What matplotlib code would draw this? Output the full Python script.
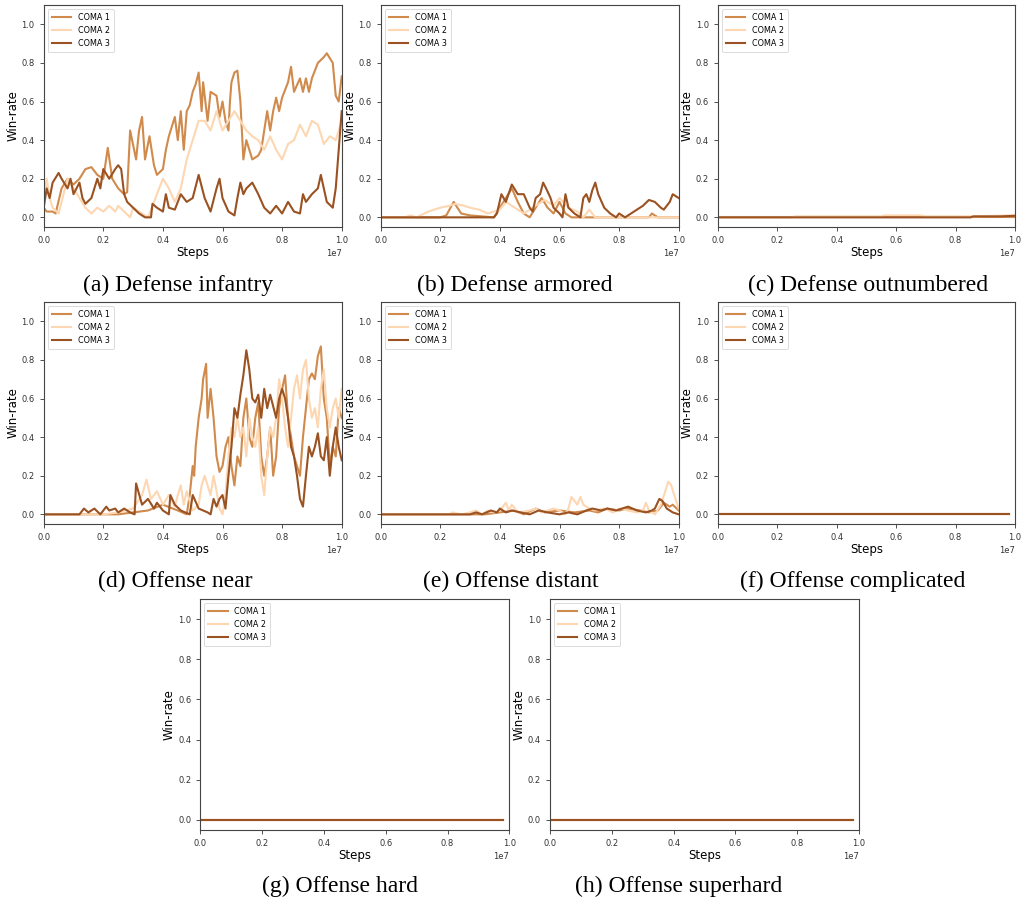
import numpy as np
import matplotlib
matplotlib.use("Agg")
import matplotlib.pyplot as plt

W, H = 1024, 905
STEP_SCALE = 1e7

COLORS = ["#d08a4c", "#fdd6b2", "#9a5222"]
LABELS = ["COMA 1", "COMA 2", "COMA 3"]

# ---- (a) Defense infantry ----
A1_X = [0, 0.01, 0.03, 0.04, 0.06, 0.08, 0.10, 0.12, 0.14, 0.16,
        0.18, 0.20, 0.215, 0.23, 0.25, 0.27, 0.28, 0.29, 0.31, 0.32,
        0.33, 0.34, 0.355, 0.37, 0.38, 0.40, 0.41, 0.42, 0.44, 0.45,
        0.46, 0.47, 0.48, 0.49, 0.50, 0.51, 0.52, 0.53, 0.535, 0.55,
        0.56, 0.58, 0.59, 0.60, 0.61, 0.62, 0.625, 0.63, 0.64, 0.65,
        0.66, 0.67, 0.68, 0.69, 0.70, 0.72, 0.73, 0.74, 0.75, 0.76,
        0.77, 0.78, 0.79, 0.80, 0.82, 0.83, 0.84, 0.86, 0.87, 0.88,
        0.89, 0.90, 0.92, 0.94, 0.95, 0.97, 0.98, 0.99, 1.0]
A1_Y = [0.05, 0.03, 0.03, 0.02, 0.15, 0.20, 0.17, 0.20, 0.25, 0.26,
        0.22, 0.20, 0.36, 0.20, 0.15, 0.12, 0.13, 0.45, 0.30, 0.45,
        0.52, 0.30, 0.42, 0.27, 0.22, 0.25, 0.35, 0.42, 0.52, 0.40,
        0.55, 0.35, 0.55, 0.58, 0.65, 0.69, 0.75, 0.55, 0.70, 0.50,
        0.65, 0.63, 0.52, 0.60, 0.50, 0.45, 0.60, 0.70, 0.75, 0.76,
        0.60, 0.30, 0.40, 0.35, 0.30, 0.32, 0.35, 0.45, 0.55, 0.45,
        0.55, 0.62, 0.55, 0.62, 0.70, 0.78, 0.65, 0.72, 0.65, 0.72,
        0.65, 0.72, 0.80, 0.83, 0.85, 0.80, 0.63, 0.60, 0.73]
A2_X = [0, 0.01, 0.02, 0.03, 0.05, 0.08, 0.10, 0.12, 0.14, 0.16,
        0.18, 0.20, 0.22, 0.24, 0.25, 0.27, 0.29, 0.30, 0.33, 0.35,
        0.37, 0.38, 0.40, 0.42, 0.44, 0.46, 0.48, 0.50, 0.52, 0.54,
        0.56, 0.58, 0.60, 0.62, 0.64, 0.66, 0.68, 0.70, 0.72, 0.74,
        0.76, 0.78, 0.80, 0.82, 0.84, 0.86, 0.88, 0.90, 0.92, 0.94,
        0.96, 0.98, 1.0]
A2_Y = [0.10, 0.20, 0.10, 0.05, 0.02, 0.20, 0.15, 0.10, 0.05, 0.02,
        0.05, 0.03, 0.06, 0.03, 0.06, 0.03, 0.00, 0.05, 0.02, 0.00,
        0.08, 0.12, 0.20, 0.15, 0.08, 0.15, 0.30, 0.40, 0.50, 0.50,
        0.45, 0.55, 0.45, 0.50, 0.55, 0.50, 0.45, 0.42, 0.40, 0.35,
        0.42, 0.35, 0.30, 0.38, 0.40, 0.48, 0.42, 0.50, 0.48, 0.38,
        0.42, 0.40, 0.50]
A3_X = [0, 0.01, 0.02, 0.03, 0.05, 0.06, 0.08, 0.09, 0.10, 0.12,
        0.13, 0.14, 0.16, 0.18, 0.19, 0.20, 0.22, 0.24, 0.25, 0.26,
        0.27, 0.28, 0.30, 0.32, 0.34, 0.36, 0.365, 0.38, 0.40, 0.41,
        0.42, 0.44, 0.46, 0.48, 0.50, 0.52, 0.54, 0.56, 0.58, 0.59,
        0.60, 0.62, 0.64, 0.65, 0.66, 0.67, 0.68, 0.70, 0.72, 0.74,
        0.76, 0.78, 0.80, 0.82, 0.84, 0.86, 0.87, 0.88, 0.90, 0.92,
        0.93, 0.95, 0.97, 0.98, 0.99, 1.0]
A3_Y = [0.05, 0.15, 0.10, 0.18, 0.23, 0.20, 0.15, 0.20, 0.12, 0.18,
        0.10, 0.07, 0.10, 0.20, 0.15, 0.25, 0.20, 0.25, 0.27, 0.25,
        0.12, 0.08, 0.05, 0.02, 0.00, 0.00, 0.07, 0.05, 0.03, 0.12,
        0.05, 0.04, 0.12, 0.08, 0.10, 0.22, 0.10, 0.03, 0.15, 0.20,
        0.10, 0.03, 0.01, 0.10, 0.18, 0.12, 0.15, 0.18, 0.12, 0.05,
        0.02, 0.06, 0.02, 0.08, 0.03, 0.02, 0.12, 0.08, 0.12, 0.15,
        0.22, 0.08, 0.05, 0.15, 0.35, 0.55]

# ---- (b) Defense armored ----
B1_X = [0, 0.20, 0.22, 0.245, 0.27, 0.30, 0.38, 0.40, 0.42, 0.44,
        0.46, 0.48, 0.50, 0.52, 0.54, 0.56, 0.58, 0.60, 0.62, 0.64,
        0.70, 0.90, 0.91, 0.93, 1.0]
B1_Y = [0, 0, 0.01, 0.08, 0.02, 0.01, 0.0, 0.05, 0.10, 0.15,
        0.08, 0.02, 0.0, 0.05, 0.10, 0.05, 0.02, 0.08, 0.02, 0.0,
        0.0, 0.0, 0.02, 0.0, 0.0]
B2_X = [0, 0.08, 0.10, 0.12, 0.16, 0.20, 0.23, 0.25, 0.28, 0.30,
        0.33, 0.36, 0.40, 0.42, 0.45, 0.48, 0.52, 0.55, 0.58, 0.60,
        0.63, 0.66, 0.68, 0.70, 0.72, 0.80, 1.0]
B2_Y = [0, 0, 0.01, 0.0, 0.03, 0.05, 0.06, 0.07, 0.06, 0.05,
        0.04, 0.02, 0.04, 0.08, 0.05, 0.02, 0.06, 0.09, 0.06, 0.10,
        0.05, 0.03, 0.0, 0.04, 0.0, 0.0, 0.0]
B3_X = [0, 0.38, 0.39, 0.405, 0.42, 0.44, 0.46, 0.48, 0.50, 0.51,
        0.52, 0.535, 0.545, 0.555, 0.57, 0.58, 0.60, 0.61, 0.62, 0.63,
        0.65, 0.67, 0.68, 0.69, 0.70, 0.71, 0.72, 0.73, 0.75, 0.77,
        0.79, 0.80, 0.82, 0.84, 0.86, 0.88, 0.90, 0.92, 0.94, 0.95,
        0.97, 0.98, 1.0]
B3_Y = [0, 0, 0.02, 0.12, 0.08, 0.17, 0.12, 0.12, 0.05, 0.03,
        0.10, 0.12, 0.18, 0.15, 0.10, 0.05, 0.02, 0.0, 0.12, 0.05,
        0.02, 0.0, 0.10, 0.12, 0.08, 0.14, 0.18, 0.12, 0.05, 0.02,
        0.0, 0.02, 0.0, 0.02, 0.04, 0.06, 0.09, 0.08, 0.05, 0.04,
        0.08, 0.12, 0.10]

# ---- (c) Defense outnumbered ----
C1_X = [0, 1.0]
C1_Y = [0, 0]
C2_X = [0, 0.25, 0.26, 0.40, 0.55, 0.56, 0.68, 0.70, 0.85, 0.98, 1.0]
C2_Y = [0, 0, 0.005, 0.005, 0.005, 0.01, 0.01, 0.005, 0.005, 0.01, 0.01]
C3_X = [0, 0.85, 0.86, 0.95, 1.0]
C3_Y = [0, 0, 0.005, 0.005, 0.008]

# ---- (d) Offense near ----
D1_X = [0, 0.25, 0.30, 0.35, 0.40, 0.45, 0.48, 0.49, 0.50, 0.505,
        0.51, 0.52, 0.53, 0.535, 0.545, 0.55, 0.56, 0.57, 0.58, 0.59,
        0.60, 0.61, 0.62, 0.63, 0.64, 0.65, 0.66, 0.67, 0.68, 0.69,
        0.70, 0.71, 0.72, 0.73, 0.74, 0.75, 0.76, 0.77, 0.78, 0.79,
        0.80, 0.81, 0.82, 0.83, 0.84, 0.85, 0.86, 0.87, 0.88, 0.89,
        0.90, 0.91, 0.92, 0.93, 0.94, 0.95, 0.96, 0.97, 0.98, 0.99,
        1.0]
D1_Y = [0, 0, 0.01, 0.02, 0.05, 0.02, 0.0, 0.10, 0.25, 0.20,
        0.35, 0.50, 0.60, 0.70, 0.78, 0.50, 0.65, 0.50, 0.30, 0.22,
        0.25, 0.35, 0.40, 0.25, 0.15, 0.30, 0.25, 0.50, 0.60, 0.40,
        0.35, 0.50, 0.58, 0.30, 0.20, 0.30, 0.45, 0.20, 0.30, 0.55,
        0.65, 0.72, 0.50, 0.40, 0.30, 0.25, 0.20, 0.40, 0.55, 0.70,
        0.73, 0.70, 0.82, 0.87, 0.60, 0.50, 0.25, 0.35, 0.30, 0.55,
        0.50]
D2_X = [0, 0.20, 0.25, 0.30, 0.33, 0.345, 0.36, 0.38, 0.40, 0.42,
        0.44, 0.45, 0.46, 0.47, 0.48, 0.50, 0.52, 0.53, 0.54, 0.55,
        0.56, 0.57, 0.58, 0.59, 0.60, 0.61, 0.62, 0.63, 0.64, 0.65,
        0.66, 0.67, 0.68, 0.69, 0.70, 0.71, 0.72, 0.73, 0.74, 0.75,
        0.76, 0.77, 0.78, 0.79, 0.80, 0.81, 0.82, 0.83, 0.84, 0.85,
        0.86, 0.87, 0.88, 0.89, 0.90, 0.91, 0.92, 0.93, 0.94, 0.95,
        0.96, 0.97, 0.98, 0.99, 1.0]
D2_Y = [0, 0, 0.01, 0.03, 0.10, 0.18, 0.08, 0.12, 0.05, 0.10,
        0.04, 0.10, 0.15, 0.05, 0.12, 0.02, 0.05, 0.15, 0.20, 0.15,
        0.10, 0.20, 0.12, 0.03, 0.0, 0.10, 0.30, 0.45, 0.40, 0.50,
        0.40, 0.45, 0.30, 0.50, 0.40, 0.35, 0.45, 0.20, 0.10, 0.30,
        0.45, 0.40, 0.50, 0.70, 0.60, 0.45, 0.35, 0.50, 0.65, 0.72,
        0.60, 0.75, 0.80, 0.60, 0.50, 0.55, 0.45, 0.65, 0.75, 0.55,
        0.45, 0.55, 0.60, 0.50, 0.65]
D3_X = [0, 0.12, 0.135, 0.15, 0.17, 0.19, 0.21, 0.22, 0.24, 0.25,
        0.27, 0.29, 0.305, 0.31, 0.33, 0.35, 0.37, 0.38, 0.40, 0.42,
        0.425, 0.44, 0.46, 0.49, 0.50, 0.52, 0.55, 0.56, 0.57, 0.58,
        0.59, 0.60, 0.61, 0.62, 0.63, 0.64, 0.65, 0.66, 0.67, 0.68,
        0.69, 0.70, 0.71, 0.72, 0.73, 0.74, 0.75, 0.76, 0.78, 0.79,
        0.80, 0.81, 0.82, 0.83, 0.84, 0.85, 0.86, 0.87, 0.88, 0.89,
        0.90, 0.91, 0.92, 0.93, 0.94, 0.95, 0.96, 0.97, 0.98, 0.99,
        1.0]
D3_Y = [0, 0, 0.03, 0.01, 0.03, 0.0, 0.04, 0.02, 0.03, 0.01,
        0.03, 0.01, 0.0, 0.16, 0.05, 0.08, 0.03, 0.06, 0.02, 0.0,
        0.10, 0.05, 0.02, 0.0, 0.10, 0.03, 0.01, 0.0, 0.08, 0.04,
        0.08, 0.10, 0.03, 0.20, 0.35, 0.55, 0.50, 0.62, 0.72, 0.85,
        0.75, 0.60, 0.58, 0.62, 0.50, 0.65, 0.55, 0.62, 0.50, 0.60,
        0.65, 0.60, 0.50, 0.35, 0.30, 0.20, 0.08, 0.04, 0.20, 0.35,
        0.30, 0.35, 0.42, 0.30, 0.28, 0.40, 0.20, 0.35, 0.45, 0.35,
        0.28]

# ---- (e) Offense distant ----
E1_X = [0, 0.35, 0.40, 0.45, 0.48, 0.52, 0.55, 0.60, 0.65, 0.70,
        0.73, 0.76, 0.80, 0.83, 0.87, 0.90, 0.93, 0.95, 0.97, 0.98, 1.0]
E1_Y = [0, 0, 0.01, 0.02, 0.0, 0.03, 0.01, 0.02, 0.01, 0.02,
        0.01, 0.03, 0.02, 0.03, 0.02, 0.01, 0.02, 0.06, 0.04, 0.05, 0.02]
E2_X = [0, 0.23, 0.24, 0.27, 0.30, 0.32, 0.34, 0.36, 0.38, 0.40,
        0.42, 0.43, 0.44, 0.46, 0.50, 0.52, 0.54, 0.56, 0.58, 0.60,
        0.62, 0.63, 0.64, 0.66, 0.67, 0.68, 0.70, 0.72, 0.75, 0.78,
        0.80, 0.83, 0.86, 0.88, 0.89, 0.90, 0.92, 0.94, 0.955, 0.965,
        0.975, 0.985, 1.0]
E2_Y = [0, 0, 0.01, 0.0, 0.01, 0.02, 0.0, 0.02, 0.01, 0.02,
        0.06, 0.02, 0.05, 0.01, 0.02, 0.03, 0.01, 0.02, 0.03, 0.02,
        0.0, 0.03, 0.09, 0.05, 0.09, 0.05, 0.03, 0.02, 0.03, 0.01,
        0.03, 0.02, 0.01, 0.02, 0.06, 0.02, 0.0, 0.05, 0.12, 0.17,
        0.15, 0.10, 0.03]
E3_X = [0, 0.30, 0.32, 0.34, 0.37, 0.39, 0.40, 0.42, 0.44, 0.47,
        0.50, 0.53, 0.56, 0.60, 0.63, 0.66, 0.69, 0.71, 0.74, 0.76,
        0.79, 0.81, 0.83, 0.86, 0.89, 0.91, 0.92, 0.935, 0.945, 0.96,
        0.98, 1.0]
E3_Y = [0, 0, 0.01, 0.0, 0.02, 0.01, 0.03, 0.01, 0.02, 0.01,
        0.0, 0.02, 0.01, 0.0, 0.01, 0.0, 0.02, 0.03, 0.02, 0.03,
        0.02, 0.03, 0.04, 0.02, 0.01, 0.02, 0.03, 0.08, 0.07, 0.03,
        0.01, 0.0]

# ---- (f)(g)(h): flat at zero ----
FLAT_X = [0, 0.98]
FLAT_Y = [0, 0]

PANELS = [
    ("(a) Defense infantry", [(A1_X, A1_Y), (A2_X, A2_Y), (A3_X, A3_Y)]),
    ("(b) Defense armored", [(B1_X, B1_Y), (B2_X, B2_Y), (B3_X, B3_Y)]),
    ("(c) Defense outnumbered", [(C1_X, C1_Y), (C2_X, C2_Y), (C3_X, C3_Y)]),
    ("(d) Offense near", [(D1_X, D1_Y), (D2_X, D2_Y), (D3_X, D3_Y)]),
    ("(e) Offense distant", [(E1_X, E1_Y), (E2_X, E2_Y), (E3_X, E3_Y)]),
    ("(f) Offense complicated", [(FLAT_X, FLAT_Y)] * 3),
    ("(g) Offense hard", [(FLAT_X, FLAT_Y)] * 3),
    ("(h) Offense superhard", [(FLAT_X, FLAT_Y)] * 3),
]

# axes boxes in pixels: left, top, width, height
BOXES = [
    (43.7, 5, 298, 222), (380.7, 5, 298, 222), (718, 5, 297, 222),
    (43.7, 302, 298, 222), (380.7, 302, 298, 222), (718, 302, 297, 222),
    (200.3, 599, 309, 231), (550, 599, 309, 231),
]
# caption centres in pixels
CAPTIONS = [(178, 285), (515, 285), (868, 285),
            (175, 581), (511, 581), (853, 581),
            (340, 886), (679, 886)]

fig = plt.figure(figsize=(W / 100, H / 100), dpi=100)

for (title, series), box, cap in zip(PANELS, BOXES, CAPTIONS):
    l, t, w, h = box
    ax = fig.add_axes([l / W, 1 - (t + h) / H, w / W, h / H])
    for (xs, ys), c, lab in zip(series, COLORS, LABELS):
        ax.plot(np.array(xs) * STEP_SCALE, ys, color=c, lw=1.5, label=lab)
    ax.set_xlim(0, STEP_SCALE)
    ax.set_ylim(-0.05, 1.1)
    ax.set_yticks([0.0, 0.2, 0.4, 0.6, 0.8, 1.0])
    ax.tick_params(labelsize=6, colors="#333333", length=3, width=0.6)
    ax.xaxis.get_offset_text().set_fontsize(6)
    ax.xaxis.get_offset_text().set_color("#333333")
    for sp in ax.spines.values():
        sp.set_color("#444444")
        sp.set_linewidth(0.8)
    ax.set_xlabel("Steps", fontsize=8.5, labelpad=1)
    ax.set_ylabel("Win-rate", fontsize=8.5, labelpad=1.5)
    leg = ax.legend(loc="upper left", fontsize=5.8, handlelength=2.4,
                    borderpad=0.5, labelspacing=0.5)
    leg.get_frame().set_linewidth(0.6)
    fig.text(cap[0] / W, 1 - cap[1] / H, title, ha="center", va="center",
             family="Liberation Serif", fontsize=17)

fig.savefig("out.png", dpi=100)
